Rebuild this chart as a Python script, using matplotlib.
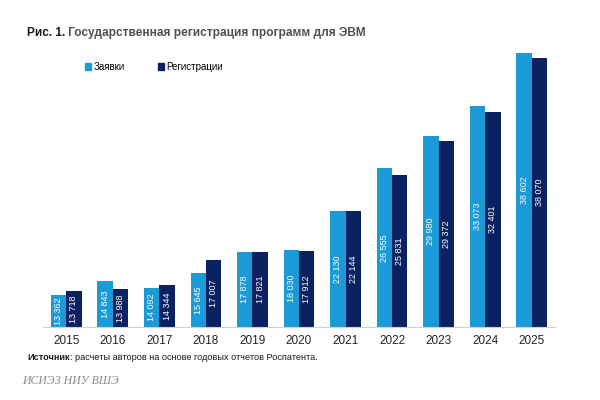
import matplotlib
matplotlib.use("Agg")
import matplotlib.pyplot as plt
import numpy as np
from matplotlib.patches import Patch

plt.rcParams["font.family"] = ["Liberation Sans", "DejaVu Sans"]

years = ["2015", "2016", "2017", "2018", "2019", "2020",
         "2021", "2022", "2023", "2024", "2025"]
applications = [13362, 14843, 14092, 15645, 17878, 18030,
                22130, 26555, 29980, 33073, 38602]
registrations = [13718, 13988, 14344, 17007, 17821, 17912,
                 22144, 25831, 29372, 32401, 38070]

LIGHT = "#1a9ad6"
DARK = "#0b2262"
BASE = 10000


def fmt(v):
    return f"{v:,}".replace(",", " ")


fig = plt.figure(figsize=(6, 4), dpi=100)
ax = fig.add_axes([43 / 600, 1 - 327 / 400, 512 / 600, 282 / 400])

x = np.arange(len(years))
w = 0.33
for vals, off, col in [(applications, -w / 2, LIGHT), (registrations, w / 2, DARK)]:
    heights = [v - BASE for v in vals]
    ax.bar(x + off, heights, width=w, bottom=BASE, color=col)
    for xi, v in zip(x, vals):
        ax.text(xi + off, (v + BASE) / 2, fmt(v), rotation=90,
                ha="center", va="center", color="white", fontsize=6.5)

ax.set_xlim(-0.5, len(years) - 0.5)
ax.set_ylim(BASE, 39440)
ax.set_xticks(x)
ax.set_xticklabels(years, fontsize=8.5, color="#222222")
ax.tick_params(axis="x", length=0, pad=6)
ax.set_yticks([])
for s in ["top", "right", "left"]:
    ax.spines[s].set_visible(False)
ax.spines["bottom"].set_color("#d0d0d0")

# заголовок
t1 = fig.text(27 / 600, 1 - 33 / 400, "Рис. 1.", fontsize=8.6,
              fontweight="bold", color="#1a1a1a", va="center")
ax.annotate(" Государственная регистрация программ для ЭВМ",
            xy=(1, 0.5), xycoords=t1, va="center", fontsize=8.6,
            fontweight="bold", color="#505050")

# легенда
handles = [Patch(color=LIGHT, label="Заявки"),
           Patch(color=DARK, label="Регистрации")]
fig.legend(handles=handles, loc="center left",
           bbox_to_anchor=(76 / 600, 1 - 67 / 400), ncol=2, frameon=False,
           fontsize=7, handlelength=0.6, handleheight=0.6,
           handletextpad=0.3, columnspacing=3.4)

# источник
s1 = fig.text(27 / 600, 1 - 358 / 400, "Источник", fontsize=6.6,
              fontweight="bold", color="#1a1a1a", va="center")
ax.annotate(": расчеты авторов на основе годовых отчетов Роспатента.",
            xy=(1, 0.5), xycoords=s1, va="center", fontsize=6.6,
            color="#1a1a1a")

fig.text(22 / 600, 1 - 381 / 400, "ИСИЭЗ НИУ ВШЭ", fontsize=8.5,
         family=["Liberation Serif", "DejaVu Serif"], style="italic",
         color="#8a8a8a", va="center")

fig.savefig("out.png", dpi=100)
